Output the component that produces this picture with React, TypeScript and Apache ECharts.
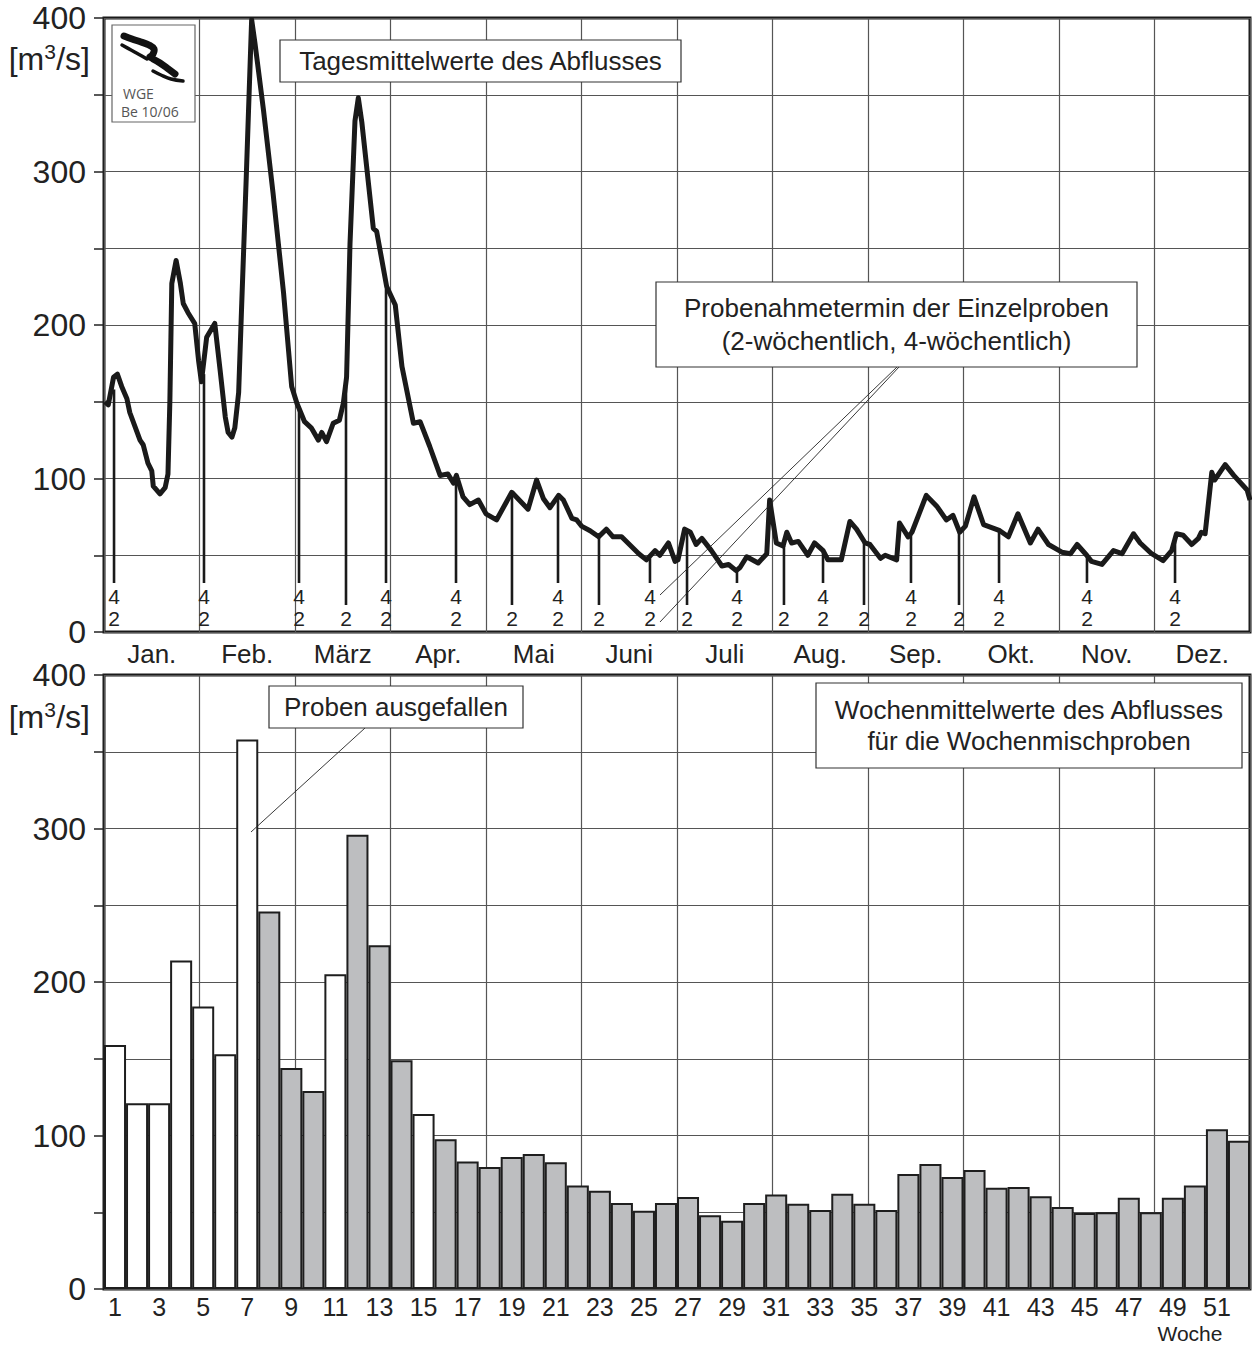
import React, { useEffect, useRef } from 'react';
import * as echarts from 'echarts';

// ---------- data ----------
const months = ['Jan.', 'Feb.', 'März', 'Apr.', 'Mai', 'Juni', 'Juli', 'Aug.', 'Sep.', 'Okt.', 'Nov.', 'Dez.'];

// daily mean discharge: [position in months (0 = 1 Jan, 12 = 31 Dec), m³/s]
const dailyFlow: [number, number][] = [
  [0.01, 150], [0.045, 148], [0.1, 166], [0.14, 168], [0.185, 160], [0.24, 152], [0.27, 143],
  [0.377, 125], [0.41, 122], [0.46, 110], [0.5, 105], [0.516, 95], [0.586, 90], [0.64, 94],
  [0.67, 103], [0.69, 151], [0.71, 227], [0.755, 242], [0.8, 227], [0.83, 214], [0.88, 208],
  [0.95, 201], [0.99, 177], [1.02, 163], [1.075, 192], [1.16, 201], [1.215, 171], [1.27, 140],
  [1.3, 130], [1.34, 127], [1.37, 133], [1.41, 156], [1.44, 210], [1.49, 297], [1.546, 399],
  [1.58, 384], [1.67, 340], [1.77, 286], [1.88, 221], [1.965, 160], [2.02, 149], [2.1, 137],
  [2.17, 133], [2.245, 125], [2.28, 130], [2.33, 124], [2.4, 136], [2.465, 138], [2.506, 149],
  [2.54, 166], [2.576, 253], [2.628, 333], [2.663, 348], [2.7, 332], [2.82, 263], [2.855, 261],
  [2.96, 225], [3.05, 213], [3.12, 173], [3.24, 136], [3.31, 137], [3.41, 121], [3.52, 102],
  [3.6, 103], [3.66, 97], [3.69, 102], [3.76, 88], [3.83, 83], [3.92, 86], [4.0, 77],
  [4.11, 73], [4.27, 91], [4.44, 80], [4.53, 99], [4.6, 87], [4.67, 81], [4.76, 89],
  [4.81, 86], [4.9, 74], [4.95, 73], [5.0, 69], [5.09, 66], [5.18, 62], [5.26, 67],
  [5.33, 62], [5.42, 62], [5.6, 51], [5.68, 47], [5.77, 53], [5.82, 50], [5.91, 58],
  [5.98, 46], [6.01, 47], [6.08, 67], [6.14, 65], [6.2, 57], [6.26, 61], [6.36, 53],
  [6.47, 43], [6.54, 44], [6.62, 40], [6.66, 42], [6.73, 49], [6.85, 45], [6.94, 51],
  [6.97, 86], [7.04, 58], [7.11, 56], [7.15, 65], [7.2, 58], [7.27, 59], [7.37, 50],
  [7.44, 58], [7.53, 53], [7.58, 47], [7.72, 47], [7.81, 72], [7.88, 67], [7.97, 58],
  [8.02, 57], [8.13, 48], [8.18, 50], [8.3, 47], [8.33, 71], [8.42, 62], [8.46, 65],
  [8.61, 89], [8.72, 82], [8.82, 73], [8.89, 76], [8.96, 65], [9.02, 69], [9.11, 88],
  [9.21, 70], [9.38, 66], [9.47, 62], [9.57, 77], [9.7, 58], [9.78, 67], [9.89, 57],
  [10.03, 52], [10.12, 51], [10.19, 57], [10.29, 50], [10.34, 46], [10.45, 44], [10.57, 53],
  [10.66, 51], [10.78, 64], [10.85, 58], [10.97, 51], [11.09, 46.5], [11.18, 53], [11.23, 64],
  [11.3, 63], [11.39, 57], [11.46, 61], [11.49, 65], [11.53, 64], [11.6, 104], [11.63, 99],
  [11.74, 109], [11.83, 102], [11.97, 92.5], [12.0, 86],
];

// sampling dates of the single samples: position (months), discharge at that date, interval type
const samplePos = [0.105, 1.047, 2.042, 2.534, 2.953, 3.686, 4.272, 4.754, 5.183, 5.717, 6.105,
  6.628, 7.12, 7.529, 7.958, 8.45, 8.953, 9.372, 10.293, 11.215];
const sampleFlow = [158, 168, 146, 160, 224, 100, 90, 88, 62, 48, 65, 40, 56, 53, 58, 64, 65, 66, 50, 62];
const sampleType = [4, 4, 4, 2, 4, 4, 2, 4, 2, 4, 2, 4, 2, 4, 2, 4, 2, 4, 4, 4]; // 4 = 4- and 2-weekly, 2 = 2-weekly

// weekly means
const weeks = [
  '1', '2', '3', '4', '5', '6', '7', '8', '9', '10', '11', '12', '13', '14', '15', '16', '17', '18',
  '19', '20', '21', '22', '23', '24', '25', '26', '27', '28', '29', '30', '31', '32', '33', '34', '35',
  '36', '37', '38', '39', '40', '41', '42', '43', '44', '45', '46', '47', '48', '49', '50', '51', '52',
];
const weeklyFlow = [
  159, 121, 121, 214, 184, 153, 358, 246, 144, 129, 205, 296, 224, 149, 114, 97.5, 83, 79.5,
  86, 88, 82.5, 67.5, 64, 56, 51, 56, 60, 48, 44.5, 56, 61.5, 55.5, 51.5, 62, 55.5,
  51.5, 75, 81.5, 73, 77.5, 66, 66.5, 60.5, 53.5, 49.5, 50, 59.5, 50, 59.5, 67.5, 104, 96.5,
];
const missingWeeks = [1, 2, 3, 4, 5, 6, 7, 11, 15];

// ---------- styles ----------
const FONT = '"Liberation Sans", Arial, sans-serif';
const TXT = '#222';
const GRIDC = '#555';

function box(x: number, y: number, w: number, h: number, lines: string[], lh: number) {
  const cx = x + w / 2;
  const cy = y + h / 2;
  const n = lines.length;
  return [
    { type: 'rect', z: 100, shape: { x, y, width: w, height: h }, style: { fill: '#fff', stroke: '#333', lineWidth: 1.2 } },
    ...lines.map((t, i) => ({
      type: 'text', z: 101,
      style: { text: t, x: cx, y: cy + (i - (n - 1) / 2) * lh, align: 'center', verticalAlign: 'middle', font: `26px ${FONT}`, fill: TXT },
    })),
  ];
}

function unitLabel(rightX: number, cy: number) {
  // "[m³/s]" with a raised 3
  const w1 = 35.5, w2 = 12, w3 = 33.8;
  const x0 = rightX - (w1 + w2 + w3);
  return [
    { type: 'text', z: 50, style: { text: '[m', x: x0, y: cy, align: 'left', verticalAlign: 'middle', font: `32px ${FONT}`, fill: TXT } },
    { type: 'text', z: 50, style: { text: '3', x: x0 + w1, y: cy - 8, align: 'left', verticalAlign: 'middle', font: `21px ${FONT}`, fill: TXT } },
    { type: 'text', z: 50, style: { text: '/s]', x: x0 + w1 + w2, y: cy, align: 'left', verticalAlign: 'middle', font: `32px ${FONT}`, fill: TXT } },
  ];
}

function yAxisCfg(gridIndex: number) {
  return {
    type: 'value', gridIndex, min: 0, max: 400, interval: 50,
    axisLine: { show: false },
    axisTick: { show: true, length: 10, inside: false, lineStyle: { color: '#222', width: 1.5 } },
    axisLabel: {
      margin: 18, fontSize: 32, fontFamily: FONT, color: TXT,
      formatter: (v: number) => (v % 100 === 0 ? String(v) : ''),
    },
    splitLine: { show: true, lineStyle: { color: GRIDC, width: 1.2 } },
  };
}

export default function App() {
  const ref = useRef<HTMLDivElement>(null);
  useEffect(() => {
    document.body.style.margin = '0';
    document.body.style.overflow = 'hidden';
    if (!ref.current) return;
    const chart = echarts.init(ref.current, null, { renderer: 'svg' });

    const sampleData = samplePos.map((p, i) => [p, sampleFlow[i], sampleType[i]]);
    const barData = weeklyFlow.map((v, i) => ({
      value: v,
      itemStyle: { color: missingWeeks.includes(i + 1) ? '#ffffff' : '#bdbec0' },
    }));

    const logo = [
      { type: 'rect', z: 100, shape: { x: 112, y: 25, width: 83, height: 97 }, style: { fill: '#fff', stroke: '#666', lineWidth: 1.2 } },
      { type: 'polyline', z: 101, shape: { points: [[124, 36], [132, 39], [141, 42], [149, 45], [154, 49], [153, 54], [150, 57]], smooth: 0.4 }, style: { stroke: '#111', lineWidth: 7, fill: null, lineCap: 'round' } },
      { type: 'polyline', z: 101, shape: { points: [[153, 59], [160, 63], [167, 68], [175, 74]], smooth: 0.4 }, style: { stroke: '#111', lineWidth: 7, fill: null, lineCap: 'round' } },
      { type: 'polyline', z: 101, shape: { points: [[122, 45], [131, 50], [140, 55], [147, 59]], smooth: 0.4 }, style: { stroke: '#111', lineWidth: 3.5, fill: null, lineCap: 'round' } },
      { type: 'polyline', z: 101, shape: { points: [[153, 71], [161, 75], [171, 79], [183, 81]], smooth: 0.4 }, style: { stroke: '#111', lineWidth: 3.5, fill: null, lineCap: 'round' } },
      { type: 'text', z: 101, style: { text: 'WGE', x: 123, y: 93, align: 'left', verticalAlign: 'middle', font: '14px "Open Sans", sans-serif', fill: '#555' } },
      { type: 'text', z: 101, style: { text: 'Be 10/06', x: 121, y: 111, align: 'left', verticalAlign: 'middle', font: '14px "Open Sans", sans-serif', fill: '#555' } },
    ];

    const graphics: any[] = [
      ...logo,
      ...unitLabel(90, 59),
      ...unitLabel(90, 717),
      ...box(280, 40, 401, 42, ['Tagesmittelwerte des Abflusses'], 33),
      ...box(656, 282, 481, 85, ['Probenahmetermin der Einzelproben', '(2-wöchentlich, 4-wöchentlich)'], 33),
      ...box(269, 686, 254, 42, ['Proben ausgefallen'], 33),
      ...box(816, 683, 426, 85, ['Wochenmittelwerte des Abflusses', 'für die Wochenmischproben'], 31),
      { type: 'line', z: 90, shape: { x1: 897, y1: 367, x2: 660, y2: 595 }, style: { stroke: '#222', lineWidth: 0.9 } },
      { type: 'line', z: 90, shape: { x1: 899, y1: 367, x2: 660, y2: 622 }, style: { stroke: '#222', lineWidth: 0.9 } },
      { type: 'line', z: 90, shape: { x1: 365, y1: 728, x2: 251, y2: 832 }, style: { stroke: '#222', lineWidth: 0.9 } },
      { type: 'text', z: 50, style: { text: 'Woche', x: 1190, y: 1333, align: 'center', verticalAlign: 'middle', font: `21px ${FONT}`, fill: TXT } },
    ];

    chart.setOption({
      animation: false,
      backgroundColor: '#fff',
      grid: [
        { left: 104, right: 2, top: 18, height: 614, show: true, borderColor: '#1a1a1a', borderWidth: 3, backgroundColor: 'transparent' },
        { left: 104, right: 2, top: 675, height: 614, show: true, borderColor: '#1a1a1a', borderWidth: 3, backgroundColor: 'transparent' },
      ],
      xAxis: [
        {
          type: 'value', gridIndex: 0, min: 0, max: 12, interval: 1, position: 'bottom',
          axisLine: { show: false }, axisTick: { show: false }, axisLabel: { show: false },
          splitLine: { show: true, lineStyle: { color: GRIDC, width: 1.2 } },
        },
        {
          type: 'category', gridIndex: 0, data: months, boundaryGap: true, position: 'bottom',
          axisLine: { show: false }, axisTick: { show: false }, splitLine: { show: false },
          axisLabel: { margin: 9, fontSize: 26, fontFamily: FONT, color: TXT },
        },
        {
          type: 'category', gridIndex: 1, data: weeks, boundaryGap: true, position: 'bottom',
          axisLine: { show: false }, axisTick: { show: false }, splitLine: { show: false },
          axisLabel: { interval: 1, margin: 5, fontSize: 25, lineHeight: 25, fontFamily: FONT, color: TXT },
        },
        {
          type: 'value', gridIndex: 1, min: 0, max: 12, interval: 1, position: 'bottom',
          axisLine: { show: false }, axisTick: { show: false }, axisLabel: { show: false },
          splitLine: { show: true, lineStyle: { color: GRIDC, width: 1.2 } },
        },
      ],
      yAxis: [yAxisCfg(0), yAxisCfg(1)],
      series: [
        {
          type: 'custom', xAxisIndex: 0, yAxisIndex: 0, z: 3,
          data: sampleData,
          encode: { x: 0, y: 1 },
          renderItem: (params: any, api: any) => {
            const x = api.value(0);
            const top = api.value(1);
            const kind = api.value(2);
            const p = api.coord([x, top]);
            const b = api.coord([x, 0]);
            const four = kind === 4;
            const children: any[] = [
              { type: 'line', shape: { x1: p[0], y1: p[1], x2: p[0], y2: b[1] - (four ? 49 : 27) }, style: { stroke: '#1a1a1a', lineWidth: 2.6 } },
            ];
            if (four) {
              children.push({ type: 'text', style: { text: '4', x: p[0], y: b[1] - 36, align: 'center', verticalAlign: 'middle', font: `21px ${FONT}`, fill: TXT } });
            }
            children.push({ type: 'text', style: { text: '2', x: p[0], y: b[1] - 14, align: 'center', verticalAlign: 'middle', font: `21px ${FONT}`, fill: TXT } });
            return { type: 'group', children };
          },
        },
        {
          type: 'line', xAxisIndex: 0, yAxisIndex: 0, z: 4,
          data: dailyFlow, symbol: 'none', smooth: false,
          lineStyle: { color: '#1a1a1a', width: 5, join: 'round' },
        },
        {
          type: 'bar', xAxisIndex: 2, yAxisIndex: 1, z: 3,
          data: barData, barCategoryGap: '0%', barGap: '0%',
          itemStyle: { borderColor: '#1e1e1e', borderWidth: 2 },
        },
      ],
      graphic: graphics,
    });

    return () => chart.dispose();
  }, []);
  return <div ref={ref} style={{ width: 1252, height: 1345 }} />;
}
